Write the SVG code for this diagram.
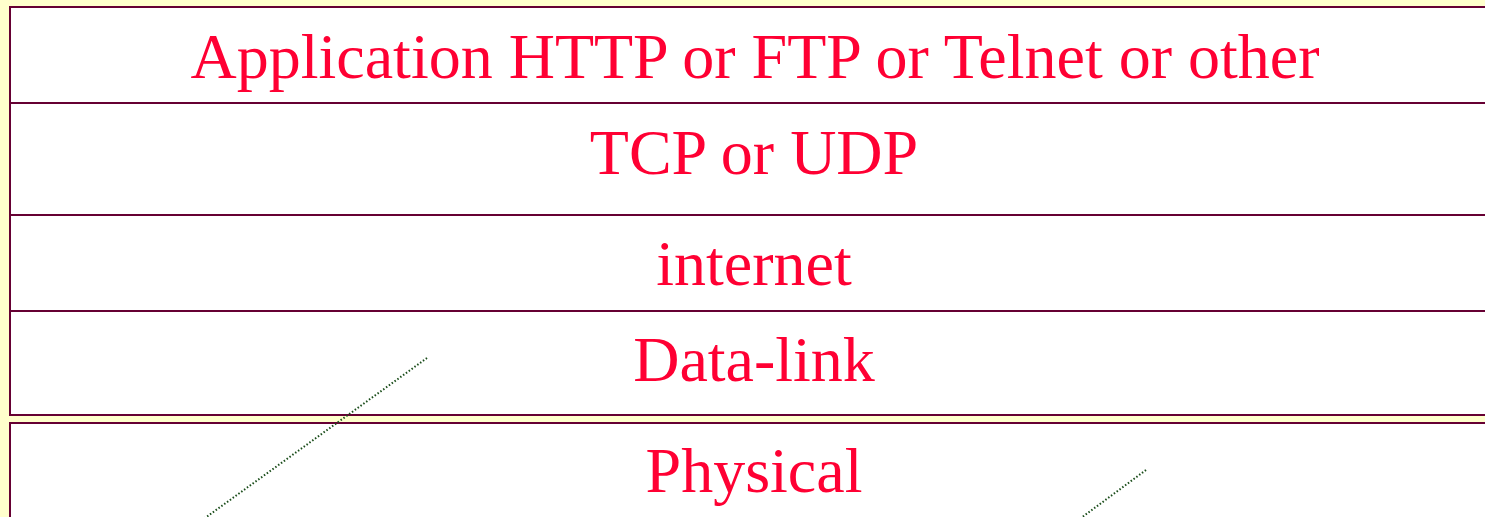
<svg xmlns="http://www.w3.org/2000/svg" width="1485" height="517" viewBox="0 0 1485 517">
<style>
.box{fill:#FFFFFF;stroke:#660033;stroke-width:2}
.sep{stroke:#660033;stroke-width:2}
.lbl{font-family:"Liberation Serif","Times New Roman",serif;font-size:64px;fill:#FF0033;text-anchor:middle}
.dot{stroke:#1A4D1A;stroke-width:2;stroke-dasharray:1.5 2;fill:none}
</style>
<rect x="0" y="0" width="1485" height="517" fill="#FFFFCC"/>
<g id="stack">
<rect class="box" x="10" y="7" width="1490" height="408"/>
</g>
<g id="application">
<text class="lbl" x="755" y="78">Application HTTP or FTP or Telnet or other</text>
</g>
<g id="transport">
<line class="sep" x1="10" y1="103" x2="1500" y2="103"/>
<text class="lbl" x="754" y="174">TCP or UDP</text>
</g>
<g id="internet">
<line class="sep" x1="10" y1="215" x2="1500" y2="215"/>
<text class="lbl" x="754" y="285">internet</text>
</g>
<g id="datalink">
<line class="sep" x1="10" y1="311" x2="1500" y2="311"/>
<text class="lbl" x="754" y="381">Data-link</text>
</g>
<g id="physical">
<rect class="box" x="10" y="423" width="1490" height="120"/>
<text class="lbl" x="754" y="492">Physical</text>
</g>
<g id="connectors">
<line class="dot" x1="427" y1="358" x2="205" y2="518"/>
<line class="dot" x1="1146" y1="470" x2="1081" y2="518"/>
</g>
</svg>
